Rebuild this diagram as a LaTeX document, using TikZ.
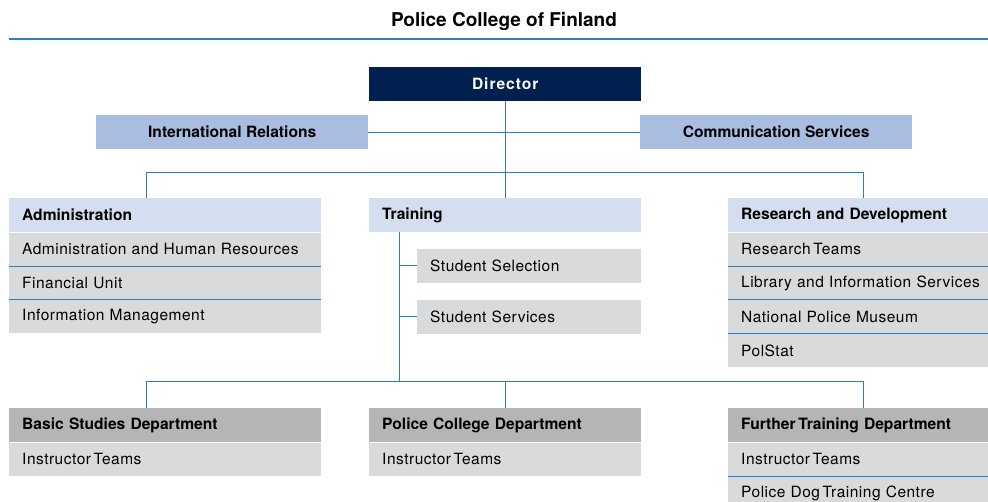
\documentclass[tikz,border=0pt]{standalone}
\usepackage{fontspec}
\setmainfont{TeX Gyre Heros}
\usepackage{tikz}
\usetikzlibrary{positioning}

\definecolor{navy}{HTML}{00204F}
\definecolor{paleblue}{HTML}{A9BDE0}
\definecolor{headblue}{HTML}{D5DEEE}
\definecolor{unitgray}{HTML}{D9DADC}
\definecolor{deptgray}{HTML}{B5B5B5}
\definecolor{linkblue}{HTML}{2A7EC6}

\newcommand\plainfont{\fontsize{15.5}{18}\selectfont\addfontfeature{LetterSpace=3.2}}
\newcommand\headfont{\fontsize{15.6}{18}\selectfont\bfseries}

\begin{document}
\begin{tikzpicture}[x=1pt, y=-1pt, node distance=0pt,
    every node/.style={font=\plainfont},
    box/.style={anchor=north west, minimum height=34pt, inner xsep=13pt, inner ysep=0pt,
                text width=#1, align=left},
    cbox/.style={anchor=north west, minimum height=34pt, minimum width=#1, inner sep=0pt,
                 font=\headfont},
    head/.style={box=#1, fill=headblue, font=\headfont},
    dept/.style={box=#1, fill=deptgray, font=\headfont},
    unit/.style={box=#1, fill=unitgray, minimum height=33.3pt},
    link/.style={draw=linkblue, line width=0.9pt},
    sep/.style={draw=linkblue, line width=1pt}]
\useasboundingbox (0,0) rectangle (988,501);

% title
\node[font=\fontsize{19}{22}\selectfont\bfseries] (title) at (504,21) {Police College of Finland};
\draw[linkblue, line width=1.4pt] (9,39) -- (988,39);

% top level
\node[cbox=272pt, fill=navy, text=white,
      font=\headfont\addfontfeature{LetterSpace=6}] (dir) at (369,67) {Director};
\node[cbox=272pt, fill=paleblue]         (intl) at (96,115)  {International Relations};
\node[cbox=272pt, fill=paleblue]         (comm) at (640,115) {Communication Services};

% administration
\node[head=286pt] (adm)  at (9,198)          {Administration};
\node[unit=286pt] (adm1) [below=of adm]      {Administration and Human Resources};
\node[unit=286pt] (adm2) [below=of adm1]     {Financial Unit};
\node[unit=286pt] (adm3) [below=of adm2]     {Information Management};

% training
\node[head=246pt] (trn)  at (369,198)        {Training};
\node[unit=198pt] (sel)  at (417,249)        {Student Selection};
\node[unit=198pt] (svc)  at (417,300)        {Student Services};

% research (runs past the right edge)
\node[head=270pt] (rnd)  at (728,198)        {Research and Development};
\node[unit=270pt] (rnd1) [below=of rnd]      {Research\,Teams};
\node[unit=270pt] (rnd2) [below=of rnd1]     {Library and Information Services};
\node[unit=270pt] (rnd3) [below=of rnd2]     {National Police Museum};
\node[unit=270pt] (rnd4) [below=of rnd3]     {PolStat};

% departments
\node[dept=286pt] (bas)  at (9,408)          {Basic Studies Department};
\node[unit=286pt] (bas1) [below=of bas]      {Instructor\,Teams};
\node[dept=246pt] (pcd)  at (369,408)        {Police College Department};
\node[unit=246pt] (pcd1) [below=of pcd]      {Instructor\,Teams};
\node[dept=270pt] (ftd)  at (728,408)        {Further\,Training Department};
\node[unit=270pt] (ftd1) [below=of ftd]      {Instructor\,Teams};
\node[unit=270pt] (ftd2) [below=of ftd1]     {Police Dog\,Training Centre};

% separators
\foreach \r in {adm1,adm2,rnd1,rnd2,rnd3,ftd1}
  \draw[sep] (\r.south west) -- (\r.south east);

% connectors
\coordinate (barl) at (146,172);
\coordinate (barr) at (863,172);
\coordinate (lowl) at (146,381);
\coordinate (lowr) at (863,381);
\coordinate (spine) at (399,232);

\draw[link] (intl.east) -- (comm.west);
\draw[link] (dir.south) -- (dir.south |- trn.north);
\draw[link] (barl |- adm.north) -- (barl) -- (barr) -- (barr |- rnd.north);
\draw[link] (spine) -- (spine |- lowl);
\draw[link] (spine |- sel.west) -- (sel.west);
\draw[link] (spine |- svc.west) -- (svc.west);
\draw[link] (lowl |- bas.north) -- (lowl) -- (lowr) -- (lowr |- ftd.north);
\draw[link] (dir.south |- lowl) -- (dir.south |- pcd.north);
\end{tikzpicture}
\end{document}
